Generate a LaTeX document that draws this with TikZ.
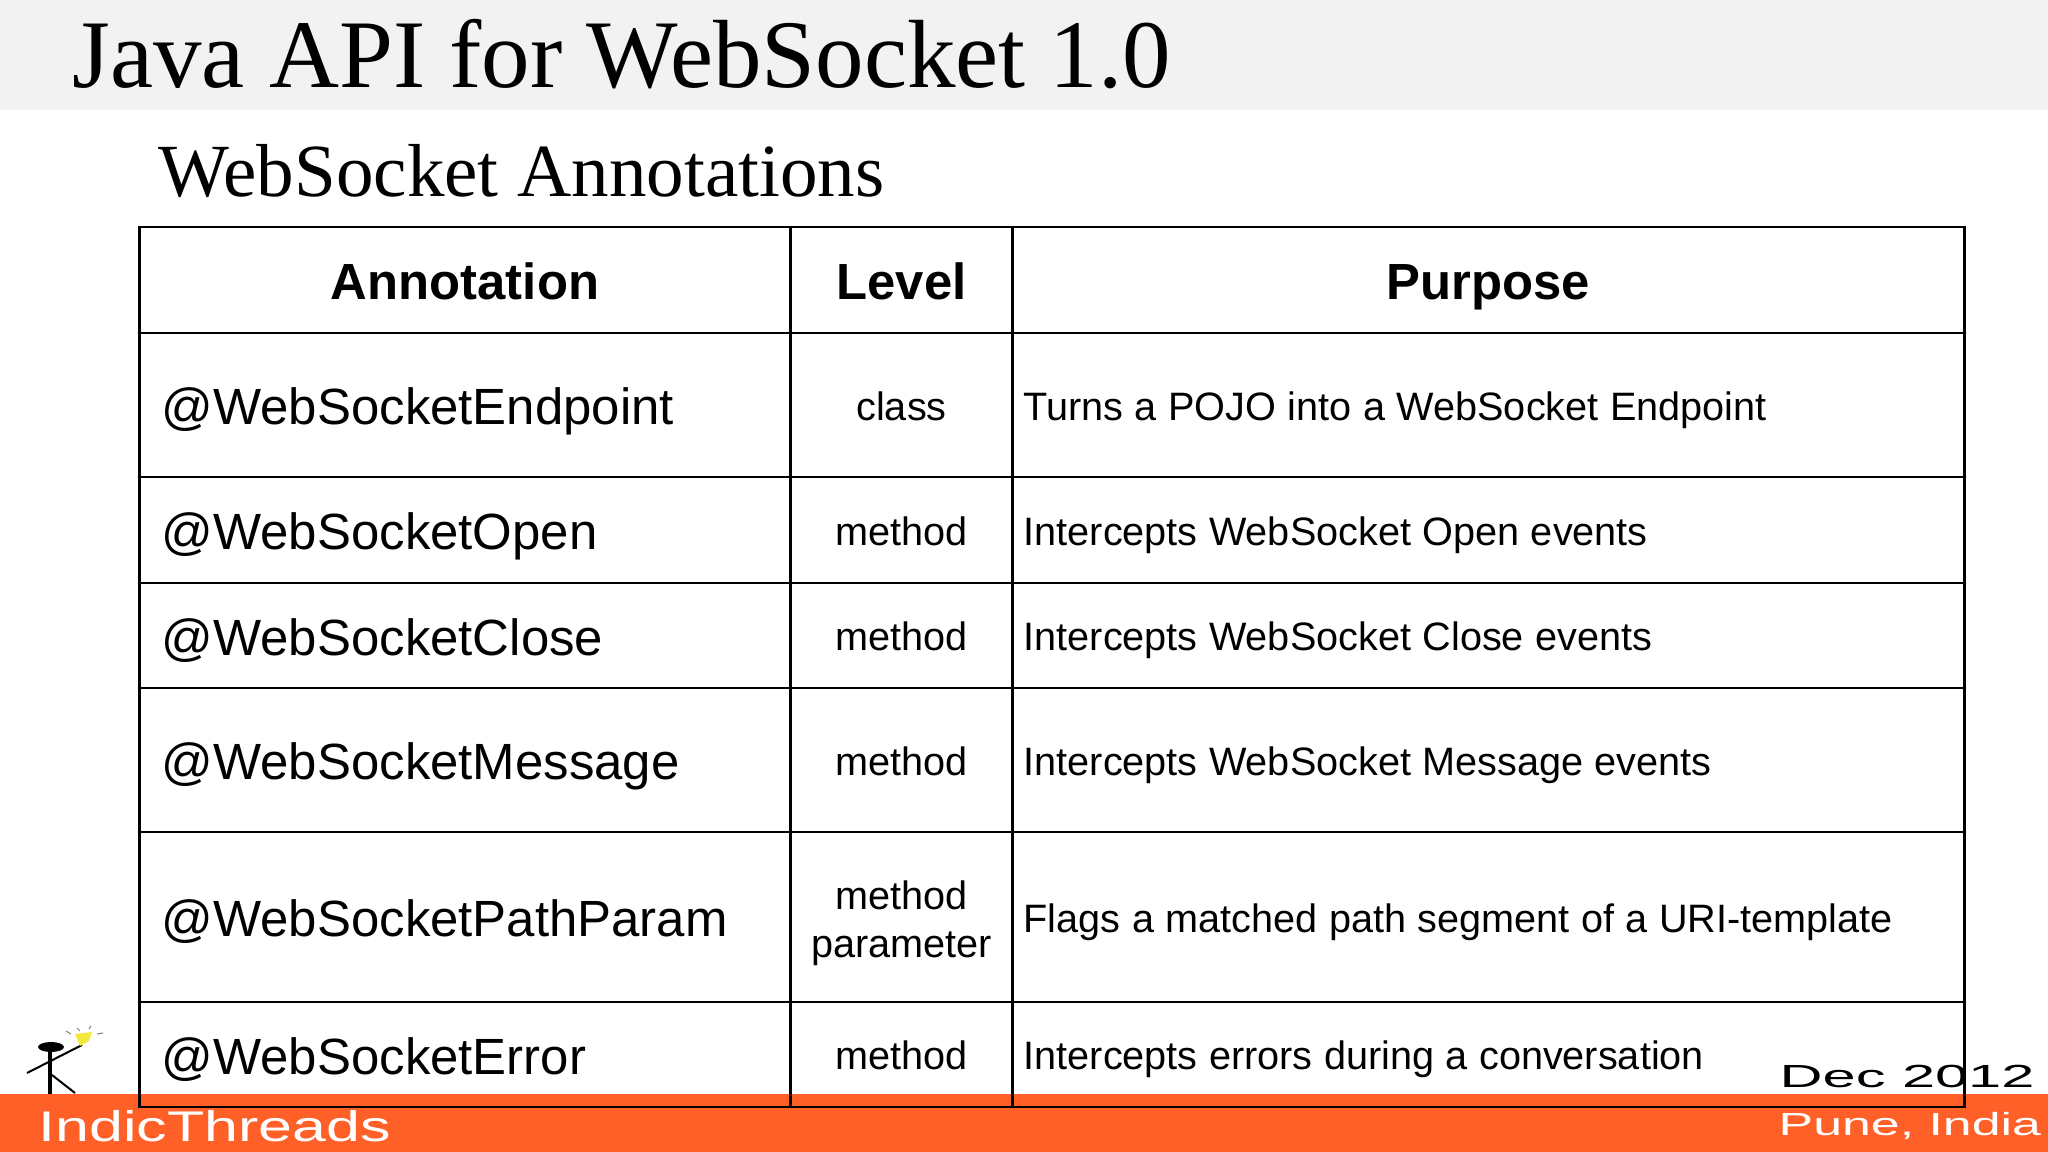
\documentclass[tikz,border=0pt]{standalone}
\usepackage{fontspec}
\usepackage{xcolor}
\setmainfont{Liberation Serif}
\setsansfont{Liberation Sans}
\newfontfamily\logofont[FakeStretch=1.42]{Liberation Sans}
\newfontfamily\datefont[FakeStretch=1.86]{Liberation Sans}
\newfontfamily\cityfont[FakeStretch=1.62]{Liberation Sans}
\definecolor{headgray}{HTML}{F2F2F2}
\definecolor{bandorange}{HTML}{FF6028}
\definecolor{bulbyellow}{HTML}{F5E83C}
\newcommand{\tightwords}{\spaceskip=0.1145cm\relax}
\tikzset{
    cell/.style={draw=black, line width=0.027cm, inner sep=0pt, outer sep=0pt, font=\sffamily},
    headcell/.style={cell, align=center, text height=0.38cm, text depth=0pt, font=\sffamily\bfseries\fontsize{14.45}{17}\selectfont},
    annotcell/.style={cell, minimum width=6.5cm, text width=6.06cm, align=left, text height=0.39cm, text depth=0pt, font=\sffamily\fontsize{14.48}{17}\selectfont},
    levelcell/.style={cell, minimum width=2.23cm, align=center, text height=0.30cm, text depth=0pt, font=\sffamily\fontsize{11.27}{13.6}\selectfont},
    purposecell/.style={cell, minimum width=9.51cm, text width=9.29cm, align=left, text height=0.30cm, text depth=0pt, execute at begin node=\tightwords, font=\sffamily\fontsize{11.27}{13.6}\selectfont},
    wordmark/.style={anchor=base west, inner sep=0pt}
}

\begin{document}
\begin{tikzpicture}[x=0.01cm, y=-0.01cm]
        \useasboundingbox (0,0) rectangle (2048,1152);
        \fill[white] (0,0) rectangle (2048,1152);
        \fill[headgray] (0,0) rectangle (2048,110);
        \fill[bandorange] (0,1094) rectangle (2048,1152);

        \node[wordmark, font=\fontsize{27.56}{32}\selectfont] (title) at (72,88) {Java API for WebSocket 1.0};
        \node[wordmark, font=\fontsize{21.35}{25}\selectfont] (subtitle) at (158,197) {WebSocket Annotations};

        \node[headcell, minimum width=6.5cm, minimum height=1.06cm] (headannot) at (465,280) {Annotation};
        \node[headcell, minimum width=2.23cm, minimum height=1.06cm] (headlevel) at (901.5,280) {Level};
        \node[headcell, minimum width=9.51cm, minimum height=1.06cm] (headpurpose) at (1488.5,280) {Purpose};

        \node[annotcell, minimum height=1.44cm] (annotendpoint) at (465,405) {@WebSocketEndpoint};
        \node[levelcell, minimum height=1.44cm] (levelendpoint) at (901.5,405) {class};
        \node[purposecell, minimum height=1.44cm] (purposeendpoint) at (1488.5,405) {Turns a POJO into a WebSocket Endpoint};

        \node[annotcell, minimum height=1.06cm] (annotopen) at (465,530) {@WebSocketOpen};
        \node[levelcell, minimum height=1.06cm] (levelopen) at (901.5,530) {method};
        \node[purposecell, minimum height=1.06cm] (purposeopen) at (1488.5,530) {Intercepts WebSocket Open events};

        \node[annotcell, minimum height=1.05cm] (annotclose) at (465,635.5) {@WebSocketClose};
        \node[levelcell, minimum height=1.05cm] (levelclose) at (901.5,635.5) {method};
        \node[purposecell, minimum height=1.05cm] (purposeclose) at (1488.5,635.5) {Intercepts WebSocket Close events};

        \node[annotcell, minimum height=1.44cm] (annotmessage) at (465,760) {@WebSocketMessage};
        \node[levelcell, minimum height=1.44cm] (levelmessage) at (901.5,760) {method};
        \node[purposecell, minimum height=1.44cm] (purposemessage) at (1488.5,760) {Intercepts WebSocket Message events};

        \node[annotcell, minimum height=1.7cm] (annotparam) at (465,917) {@WebSocketPathParam};
        \node[levelcell, minimum height=1.7cm, text height=0.80cm] (levelparam) at (901.5,917) {method\\parameter};
        \node[purposecell, minimum height=1.7cm] (purposeparam) at (1488.5,917) {Flags a matched path segment of a URI-template};

        \node[annotcell, minimum height=1.05cm] (annoterror) at (465,1054.5) {@WebSocketError};
        \node[levelcell, minimum height=1.05cm] (levelerror) at (901.5,1054.5) {method};
        \node[purposecell, minimum height=1.05cm] (purposeerror) at (1488.5,1054.5) {Intercepts errors during a conversation};

        \node[wordmark, text=white, font=\logofont\fontsize{12.2}{14}\selectfont] (indic) at (38,1141) {IndicThreads};
        \node[wordmark, font=\datefont\fontsize{9.1}{11}\selectfont] (date) at (1779,1087) {Dec 2012};
        \node[wordmark, text=white, font=\cityfont\fontsize{9.1}{11}\selectfont] (city) at (1778,1135) {Pune, India};

        % stick figure
        \fill (51,1047) ellipse (13 and 5);
        \draw[line width=0.02cm] (27,1073) -- (82,1045);
        \draw[line width=0.03cm] (50,1050) -- (50,1094);
        \draw[line width=0.02cm] (52,1075) -- (75,1093);
        \fill[bulbyellow] (75,1034) -- (92,1032) -- (89,1041) -- (80,1046) -- cycle;
        \draw[gray, line width=0.01cm] (66,1031) -- (71,1034);
        \draw[gray, line width=0.01cm] (77,1028) -- (80,1031);
        \draw[gray, line width=0.01cm] (89,1029) -- (91,1026);
        \draw[gray, line width=0.01cm] (97,1034) -- (103,1033);
    \end{tikzpicture}
\end{document}
